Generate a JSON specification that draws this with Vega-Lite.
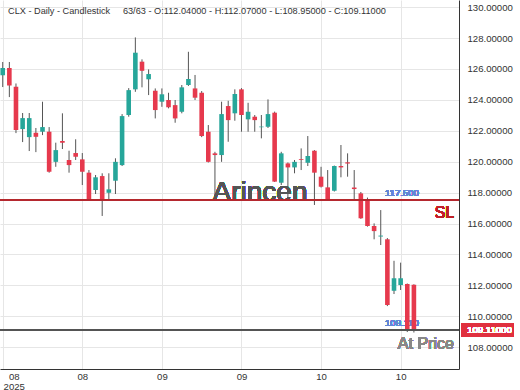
{
  "$schema": "https://vega.github.io/schema/vega-lite/v6.json",
  "width": 459,
  "height": 369,
  "autosize": {"type": "none"},
  "padding": {"left": 0, "top": 0, "right": 61, "bottom": 21},
  "background": "white",
  "config": {"view": {"stroke": null}, "font": "Liberation Sans", "scale": {"continuousPadding": 0}},
  "title": {
    "text": "CLX - Daily - Candlestick\u00a0\u00a0\u00a0\u00a0\u00a063/63 - O:112.04000 - H:112.07000 - L:108.95000 - C:109.11000",
    "anchor": "start", "frame": "group", "offset": -16, "dx": 8,
    "fontSize": 9.2, "fontWeight": "normal", "color": "#333", "font": "Liberation Sans"
  },
  "resolve": {"axis": {"x": "independent", "y": "independent"}},
  "data": {"values": [
    {"i":0,"o":125.60,"h":126.45,"l":124.83,"c":126.06},
    {"i":1,"o":126.06,"h":126.45,"l":124.18,"c":124.93},
    {"i":2,"o":124.85,"h":125.06,"l":121.85,"c":122.05},
    {"i":3,"o":122.11,"h":123.15,"l":121.27,"c":122.82},
    {"i":4,"o":121.59,"h":123.15,"l":120.69,"c":122.82},
    {"i":5,"o":121.87,"h":122.18,"l":120.62,"c":121.61},
    {"i":6,"o":121.94,"h":123.88,"l":121.72,"c":122.24},
    {"i":7,"o":121.94,"h":122.24,"l":119.29,"c":119.35},
    {"i":8,"o":119.99,"h":121.23,"l":119.67,"c":120.75},
    {"i":9,"o":121.34,"h":123.13,"l":120.82,"c":121.23},
    {"i":10,"o":120.11,"h":120.71,"l":119.29,"c":119.78},
    {"i":11,"o":120.56,"h":121.45,"l":120.11,"c":120.32},
    {"i":12,"o":120.15,"h":120.56,"l":118.49,"c":119.35},
    {"i":13,"o":119.29,"h":119.46,"l":117.47,"c":117.57},
    {"i":14,"o":118.17,"h":119.14,"l":117.91,"c":118.99},
    {"i":15,"o":119.07,"h":119.25,"l":116.49,"c":117.57},
    {"i":16,"o":117.99,"h":119.25,"l":117.52,"c":118.21},
    {"i":17,"o":118.77,"h":120.22,"l":117.91,"c":119.99},
    {"i":18,"o":119.78,"h":123.08,"l":119.72,"c":122.95},
    {"i":19,"o":123.02,"h":124.76,"l":122.91,"c":124.63},
    {"i":20,"o":124.68,"h":128.04,"l":124.52,"c":127.05},
    {"i":21,"o":126.47,"h":126.62,"l":124.81,"c":125.88},
    {"i":22,"o":125.33,"h":125.97,"l":124.31,"c":125.67},
    {"i":23,"o":124.59,"h":124.74,"l":122.80,"c":123.34},
    {"i":24,"o":123.88,"h":124.74,"l":123.55,"c":124.36},
    {"i":25,"o":123.99,"h":124.46,"l":123.45,"c":123.52},
    {"i":26,"o":123.66,"h":123.99,"l":122.52,"c":122.80},
    {"i":27,"o":123.23,"h":124.96,"l":123.13,"c":124.81},
    {"i":28,"o":124.96,"h":127.11,"l":124.90,"c":125.35},
    {"i":29,"o":124.74,"h":125.61,"l":123.99,"c":124.14},
    {"i":30,"o":124.46,"h":124.57,"l":121.59,"c":121.66},
    {"i":31,"o":121.94,"h":122.37,"l":119.95,"c":119.99},
    {"i":32,"o":120.54,"h":120.64,"l":117.52,"c":120.43},
    {"i":33,"o":120.43,"h":123.88,"l":119.99,"c":123.08},
    {"i":34,"o":123.60,"h":123.94,"l":121.29,"c":122.69},
    {"i":35,"o":123.13,"h":124.68,"l":122.65,"c":124.38},
    {"i":36,"o":124.68,"h":124.76,"l":121.94,"c":123.02},
    {"i":37,"o":122.74,"h":123.81,"l":121.94,"c":123.23},
    {"i":38,"o":122.91,"h":123.02,"l":121.94,"c":122.69},
    {"i":39,"o":122.23,"h":123.02,"l":121.51,"c":122.27},
    {"i":40,"o":122.26,"h":124.03,"l":122.18,"c":123.08},
    {"i":41,"o":123.17,"h":123.24,"l":118.69,"c":118.71},
    {"i":42,"o":118.64,"h":120.64,"l":118.49,"c":120.54},
    {"i":43,"o":119.89,"h":119.95,"l":117.52,"c":119.63},
    {"i":44,"o":119.63,"h":120.11,"l":119.25,"c":119.99},
    {"i":45,"o":120.17,"h":120.86,"l":119.46,"c":120.12},
    {"i":46,"o":119.93,"h":121.66,"l":119.72,"c":120.37},
    {"i":47,"o":120.71,"h":120.75,"l":117.20,"c":119.29},
    {"i":48,"o":119.03,"h":119.67,"l":118.33,"c":118.38},
    {"i":49,"o":118.34,"h":119.46,"l":117.52,"c":117.57},
    {"i":50,"o":118.12,"h":119.75,"l":118.07,"c":119.72},
    {"i":51,"o":119.72,"h":121.08,"l":118.99,"c":119.63},
    {"i":52,"o":119.96,"h":120.54,"l":119.03,"c":119.88},
    {"i":53,"o":118.33,"h":119.46,"l":117.52,"c":118.23},
    {"i":54,"o":117.95,"h":118.04,"l":116.30,"c":116.34},
    {"i":55,"o":117.52,"h":117.68,"l":115.80,"c":115.84},
    {"i":56,"o":115.84,"h":116.01,"l":114.98,"c":115.51},
    {"i":57,"o":115.16,"h":116.87,"l":114.61,"c":115.22},
    {"i":58,"o":114.98,"h":115.06,"l":110.66,"c":110.73},
    {"i":59,"o":111.65,"h":113.59,"l":111.44,"c":112.46},
    {"i":60,"o":112.02,"h":113.47,"l":111.70,"c":112.46},
    {"i":61,"o":112.09,"h":112.12,"l":108.98,"c":109.07},
    {"i":62,"o":112.04,"h":112.07,"l":108.95,"c":109.11}
  ]},
  "layer": [
    {
      "mark": {"type": "rule", "color": "#555", "strokeWidth": 1},
      "encoding": {
        "x": {"field": "i", "type": "quantitative", "title": null,
          "scale": {"domain": [-0.41, 68.8], "nice": false, "zero": false, "padding": 0},
          "axis": {
            "orient": "bottom", "values": [0, 12, 24, 36, 48, 60],
            "labelExpr": "datum.value == 0 ? ['08', '2025'] : datum.value < 24 ? '08' : datum.value < 48 ? '09' : '10'",
            "grid": true, "gridColor": "#e6e6e6", "ticks": false, "domainColor": "#333",
            "labelFontSize": 9.6, "labelColor": "#333", "labelPadding": 2, "labelLineHeight": 10,
            "labelFlush": false, "labelOverlap": false,
            "labelOffset": {"condition": {"test": "datum.value == 0", "value": 11}, "value": 0}
          }
        },
        "y": {"field": "l", "type": "quantitative", "title": null,
          "scale": {"domain": [106.59, 130.46], "nice": false, "zero": false, "padding": 0},
          "axis": {
            "orient": "right", "values": [108, 110, 112, 114, 116, 118, 120, 122, 124, 126, 128, 130],
            "format": ".5f", "grid": true, "gridColor": "#e6e6e6", "ticks": false, "domainColor": "#333",
            "labelFontSize": 9.6, "labelColor": "#333", "labelPadding": 8, "labelOverlap": false,
            "labelFlush": false, "labelBound": false, "labelSeparation": 0
          }
        },
        "y2": {"field": "h"}
      }
    },
    {
      "mark": {"type": "text", "fontSize": 28, "color": "#555", "opacity": 0.72, "align": "center", "baseline": "middle"},
      "encoding": {
        "x": {"datum": 38.8, "axis": null},
        "y": {"datum": 118, "axis": null},
        "text": {"value": "Arincen"}
      }
    },
    {
      "mark": {"type": "text", "fontSize": 9.6, "color": "#6385d6", "align": "center", "baseline": "middle", "dy": -7},
      "encoding": {
        "x": {"datum": 60.2, "axis": null},
        "y": {"datum": 117.5, "axis": null},
        "text": {"value": "117.500"}
      }
    },
    {
      "mark": {"type": "text", "fontSize": 9.6, "color": "#6385d6", "align": "center", "baseline": "middle", "dy": -7},
      "encoding": {
        "x": {"datum": 60.2, "axis": null},
        "y": {"datum": 109.11, "axis": null},
        "text": {"value": "109.110"}
      }
    },
    {
      "mark": {"type": "bar", "width": 4.6},
      "encoding": {
        "x": {"field": "i", "type": "quantitative", "axis": null},
        "y": {"field": "o", "type": "quantitative", "axis": null},
        "y2": {"field": "c"},
        "color": {"condition": {"test": "datum.c >= datum.o", "value": "#26a69a"}, "value": "#e6394d"}
      }
    },
    {
      "mark": {"type": "rule", "color": "#b5282f", "strokeWidth": 1.2},
      "encoding": {"y": {"datum": 117.5, "axis": null}}
    },
    {
      "mark": {"type": "rule", "color": "#555", "strokeWidth": 1},
      "encoding": {"y": {"datum": 109.11, "axis": null}}
    },
    {
      "mark": {"type": "text", "fontSize": 16, "color": "#c0202a", "align": "center", "baseline": "middle", "dy": 13},
      "encoding": {
        "x": {"datum": 66.6, "axis": null},
        "y": {"datum": 117.5, "axis": null},
        "text": {"value": "SL"}
      }
    },
    {
      "mark": {"type": "text", "fontSize": 16, "color": "#888", "align": "center", "baseline": "middle", "dy": 14},
      "encoding": {
        "x": {"datum": 63.8, "axis": null},
        "y": {"datum": 109.11, "axis": null},
        "text": {"value": "At Price"}
      }
    },
    {
      "mark": {"type": "rect", "color": "#e0303f"},
      "encoding": {
        "x": {"datum": 69.13, "axis": null},
        "x2": {"datum": 76.97},
        "y": {"datum": 109.56, "axis": null},
        "y2": {"datum": 108.66}
      }
    },
    {
      "mark": {"type": "text", "fontSize": 9.6, "color": "white", "align": "left", "baseline": "middle"},
      "encoding": {
        "x": {"datum": 70.03, "axis": null},
        "y": {"datum": 109.11, "axis": null},
        "text": {"value": "109.11000"}
      }
    }
  ]
}
